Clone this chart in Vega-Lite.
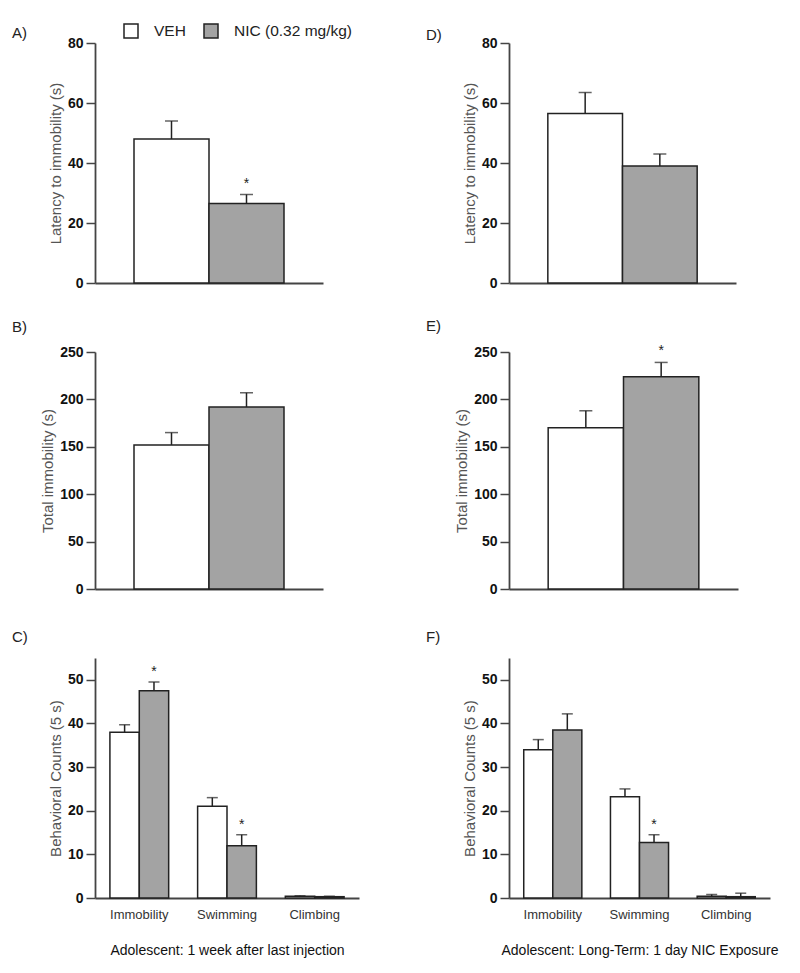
{
  "$schema": "https://vega.github.io/schema/vega-lite/v6.json",
  "background": "white",
  "padding": {"left": 12, "top": 23, "right": 5, "bottom": 5},
  "bounds": "flush",
  "columns": 2,
  "spacing": {"row": 69, "column": 150},
  "resolve": {"scale": {"fill": "independent", "x": "independent", "y": "independent", "xOffset": "independent"}, "legend": {"fill": "independent"}},
  "config": {
    "font": "Liberation Sans",
    "view": {"stroke": null},
    "axis": {"domainColor": "#444", "domainWidth": 1.8, "tickColor": "#444", "tickWidth": 1.5, "grid": false, "labelFont": "Liberation Sans", "labelFontSize": 14, "labelFontWeight": "bold", "labelColor": "#111", "titleFont": "Liberation Sans", "titleFontSize": 15, "titleFontWeight": "normal", "titleColor": "#555"},
    "axisY": {"tickSize": 9, "labelPadding": 3, "titlePadding": 4},
    "title": {"font": "Liberation Sans", "fontSize": 15, "fontWeight": "normal", "color": "#222", "anchor": "start", "frame": "group", "dx": -83, "offset": 4}
  },
  "concat": [
    {
      "width": 228, "height": 240,
      "title": {"text": "A)", "dy": 22},
      "data": {"values": [
        {"group": "VEH", "mean": 48, "err": 54, "sig": ""},
        {"group": "NIC (0.32 mg/kg)", "mean": 26.5, "err": 29.5, "sig": "*"}
      ]},
      "encoding": {
        "x": {"field": "group", "type": "nominal", "scale": {"domain": ["VEH", "NIC (0.32 mg/kg)"], "paddingInner": 0, "paddingOuter": 0.52}, "axis": {"labels": false, "ticks": false, "title": null}}
      },
      "layer": [
        {"mark": {"type": "bar", "stroke": "#222", "strokeWidth": 1.5},
         "encoding": {
           "y": {"field": "mean", "type": "quantitative", "title": "Latency to immobility (s)", "scale": {"domain": [0, 80], "nice": false}, "axis": {"values": [0, 20, 40, 60, 80]}},
           "fill": {"field": "group", "type": "nominal", "scale": {"domain": ["VEH", "NIC (0.32 mg/kg)"], "range": ["#ffffff", "#a3a3a3"]},
                    "legend": {"orient": "none", "legendX": 28, "legendY": -20, "direction": "horizontal", "title": null, "padding": 0, "symbolType": "square", "symbolSize": 196, "symbolStrokeColor": "#222", "symbolStrokeWidth": 1.5, "labelFont": "Liberation Sans", "labelFontSize": 15.5, "labelColor": "#222", "labelOffset": 15, "columnPadding": 15}}
         }},
        {"mark": {"type": "rule", "color": "#222", "strokeWidth": 1.5},
         "encoding": {"y": {"field": "mean", "type": "quantitative", "title": "Latency to immobility (s)"}, "y2": {"field": "err"}}},
        {"mark": {"type": "tick", "color": "#222", "thickness": 1.5, "size": 13},
         "encoding": {"y": {"field": "err", "type": "quantitative", "title": "Latency to immobility (s)"}}},
        {"mark": {"type": "text", "baseline": "bottom", "dy": -4, "fontSize": 14, "color": "#222"},
         "encoding": {"y": {"field": "err", "type": "quantitative", "title": "Latency to immobility (s)"}, "text": {"field": "sig"}}}
      ]
    },
    {
      "width": 227, "height": 240,
      "title": {"text": "D)", "dy": 11},
      "data": {"values": [
        {"group": "VEH", "mean": 56.5, "err": 63.5, "sig": ""},
        {"group": "NIC (0.32 mg/kg)", "mean": 39, "err": 43, "sig": ""}
      ]},
      "encoding": {
        "x": {"field": "group", "type": "nominal", "scale": {"domain": ["VEH", "NIC (0.32 mg/kg)"], "paddingInner": 0, "paddingOuter": 0.52}, "axis": {"labels": false, "ticks": false, "title": null}}
      },
      "layer": [
        {"mark": {"type": "bar", "stroke": "#222", "strokeWidth": 1.5},
         "encoding": {
           "y": {"field": "mean", "type": "quantitative", "title": "Latency to immobility (s)", "scale": {"domain": [0, 80], "nice": false}, "axis": {"values": [0, 20, 40, 60, 80]}},
           "fill": {"field": "group", "type": "nominal", "scale": {"domain": ["VEH", "NIC (0.32 mg/kg)"], "range": ["#ffffff", "#a3a3a3"]}, "legend": null}
         }},
        {"mark": {"type": "rule", "color": "#222", "strokeWidth": 1.5},
         "encoding": {"y": {"field": "mean", "type": "quantitative", "title": "Latency to immobility (s)"}, "y2": {"field": "err"}}},
        {"mark": {"type": "tick", "color": "#222", "thickness": 1.5, "size": 13},
         "encoding": {"y": {"field": "err", "type": "quantitative", "title": "Latency to immobility (s)"}}},
        {"mark": {"type": "text", "baseline": "bottom", "dy": -4, "fontSize": 14, "color": "#222"},
         "encoding": {"y": {"field": "err", "type": "quantitative", "title": "Latency to immobility (s)"}, "text": {"field": "sig"}}}
      ]
    },
    {
      "width": 228, "height": 237,
      "title": {"text": "B)", "dy": -6},
      "data": {"values": [
        {"group": "VEH", "mean": 152, "err": 165, "sig": ""},
        {"group": "NIC (0.32 mg/kg)", "mean": 192, "err": 207, "sig": ""}
      ]},
      "encoding": {
        "x": {"field": "group", "type": "nominal", "scale": {"domain": ["VEH", "NIC (0.32 mg/kg)"], "paddingInner": 0, "paddingOuter": 0.52}, "axis": {"labels": false, "ticks": false, "title": null}}
      },
      "layer": [
        {"mark": {"type": "bar", "stroke": "#222", "strokeWidth": 1.5},
         "encoding": {
           "y": {"field": "mean", "type": "quantitative", "title": "Total immobility (s)", "scale": {"domain": [0, 250], "nice": false}, "axis": {"values": [0, 50, 100, 150, 200, 250]}},
           "fill": {"field": "group", "type": "nominal", "scale": {"domain": ["VEH", "NIC (0.32 mg/kg)"], "range": ["#ffffff", "#a3a3a3"]}, "legend": null}
         }},
        {"mark": {"type": "rule", "color": "#222", "strokeWidth": 1.5},
         "encoding": {"y": {"field": "mean", "type": "quantitative", "title": "Total immobility (s)"}, "y2": {"field": "err"}}},
        {"mark": {"type": "tick", "color": "#222", "thickness": 1.5, "size": 13},
         "encoding": {"y": {"field": "err", "type": "quantitative", "title": "Total immobility (s)"}}},
        {"mark": {"type": "text", "baseline": "bottom", "dy": -4, "fontSize": 14, "color": "#222"},
         "encoding": {"y": {"field": "err", "type": "quantitative", "title": "Total immobility (s)"}, "text": {"field": "sig"}}}
      ]
    },
    {
      "width": 229, "height": 237,
      "title": {"text": "E)", "dy": -6},
      "data": {"values": [
        {"group": "VEH", "mean": 170, "err": 188, "sig": ""},
        {"group": "NIC (0.32 mg/kg)", "mean": 224, "err": 239, "sig": "*"}
      ]},
      "encoding": {
        "x": {"field": "group", "type": "nominal", "scale": {"domain": ["VEH", "NIC (0.32 mg/kg)"], "paddingInner": 0, "paddingOuter": 0.52}, "axis": {"labels": false, "ticks": false, "title": null}}
      },
      "layer": [
        {"mark": {"type": "bar", "stroke": "#222", "strokeWidth": 1.5},
         "encoding": {
           "y": {"field": "mean", "type": "quantitative", "title": "Total immobility (s)", "scale": {"domain": [0, 250], "nice": false}, "axis": {"values": [0, 50, 100, 150, 200, 250]}},
           "fill": {"field": "group", "type": "nominal", "scale": {"domain": ["VEH", "NIC (0.32 mg/kg)"], "range": ["#ffffff", "#a3a3a3"]}, "legend": null}
         }},
        {"mark": {"type": "rule", "color": "#222", "strokeWidth": 1.5},
         "encoding": {"y": {"field": "mean", "type": "quantitative", "title": "Total immobility (s)"}, "y2": {"field": "err"}}},
        {"mark": {"type": "tick", "color": "#222", "thickness": 1.5, "size": 13},
         "encoding": {"y": {"field": "err", "type": "quantitative", "title": "Total immobility (s)"}}},
        {"mark": {"type": "text", "baseline": "bottom", "dy": -4, "fontSize": 14, "color": "#222"},
         "encoding": {"y": {"field": "err", "type": "quantitative", "title": "Total immobility (s)"}, "text": {"field": "sig"}}}
      ]
    },
    {
      "width": 264, "height": 240,
      "title": {"text": "C)", "dy": -9},
      "data": {"values": [
        {"behavior": "Immobility", "group": "VEH", "mean": 38, "err": 39.7, "sig": ""},
        {"behavior": "Immobility", "group": "NIC (0.32 mg/kg)", "mean": 47.5, "err": 49.5, "sig": "*"},
        {"behavior": "Swimming", "group": "VEH", "mean": 21, "err": 23, "sig": ""},
        {"behavior": "Swimming", "group": "NIC (0.32 mg/kg)", "mean": 12, "err": 14.5, "sig": "*"},
        {"behavior": "Climbing", "group": "VEH", "mean": 0.4, "err": 0.5, "sig": ""},
        {"behavior": "Climbing", "group": "NIC (0.32 mg/kg)", "mean": 0.3, "err": 0.4, "sig": ""}
      ]},
      "encoding": {
        "x": {"field": "behavior", "type": "nominal", "title": "Adolescent: 1 week after last injection", "scale": {"domain": ["Immobility", "Swimming", "Climbing"], "paddingInner": 0.33, "paddingOuter": 0.17},
              "axis": {"ticks": false, "tickSize": 0, "labelAngle": 0, "labelFontSize": 13, "labelFontWeight": "normal", "labelColor": "#333", "labelPadding": 10, "titleFontSize": 14, "titleColor": "#111", "titlePadding": 22}},
        "xOffset": {"field": "group", "type": "nominal", "scale": {"domain": ["VEH", "NIC (0.32 mg/kg)"], "paddingInner": 0, "paddingOuter": 0}}
      },
      "layer": [
        {"mark": {"type": "bar", "stroke": "#222", "strokeWidth": 1.5},
         "encoding": {
           "y": {"field": "mean", "type": "quantitative", "title": "Behavioral Counts (5 s)", "scale": {"domain": [0, 55], "nice": false}, "axis": {"values": [0, 10, 20, 30, 40, 50]}},
           "fill": {"field": "group", "type": "nominal", "scale": {"domain": ["VEH", "NIC (0.32 mg/kg)"], "range": ["#ffffff", "#a3a3a3"]}, "legend": null}
         }},
        {"mark": {"type": "rule", "color": "#222", "strokeWidth": 1.5},
         "encoding": {"y": {"field": "mean", "type": "quantitative", "title": "Behavioral Counts (5 s)"}, "y2": {"field": "err"}}},
        {"mark": {"type": "tick", "color": "#222", "thickness": 1.5, "size": 11},
         "encoding": {"y": {"field": "err", "type": "quantitative", "title": "Behavioral Counts (5 s)"}}},
        {"mark": {"type": "text", "baseline": "bottom", "dy": -3, "fontSize": 14, "color": "#222"},
         "encoding": {"y": {"field": "err", "type": "quantitative", "title": "Behavioral Counts (5 s)"}, "text": {"field": "sig"}}}
      ]
    },
    {
      "width": 261, "height": 240,
      "title": {"text": "F)", "dy": -9},
      "data": {"values": [
        {"behavior": "Immobility", "group": "VEH", "mean": 34, "err": 36.3, "sig": ""},
        {"behavior": "Immobility", "group": "NIC (0.32 mg/kg)", "mean": 38.5, "err": 42.2, "sig": ""},
        {"behavior": "Swimming", "group": "VEH", "mean": 23.2, "err": 25, "sig": ""},
        {"behavior": "Swimming", "group": "NIC (0.32 mg/kg)", "mean": 12.7, "err": 14.5, "sig": "*"},
        {"behavior": "Climbing", "group": "VEH", "mean": 0.4, "err": 0.8, "sig": ""},
        {"behavior": "Climbing", "group": "NIC (0.32 mg/kg)", "mean": 0.3, "err": 1.1, "sig": ""}
      ]},
      "encoding": {
        "x": {"field": "behavior", "type": "nominal", "title": "Adolescent: Long-Term: 1 day NIC Exposure", "scale": {"domain": ["Immobility", "Swimming", "Climbing"], "paddingInner": 0.33, "paddingOuter": 0.17},
              "axis": {"ticks": false, "tickSize": 0, "labelAngle": 0, "labelFontSize": 13, "labelFontWeight": "normal", "labelColor": "#333", "labelPadding": 10, "titleFontSize": 14, "titleColor": "#111", "titlePadding": 22}},
        "xOffset": {"field": "group", "type": "nominal", "scale": {"domain": ["VEH", "NIC (0.32 mg/kg)"], "paddingInner": 0, "paddingOuter": 0}}
      },
      "layer": [
        {"mark": {"type": "bar", "stroke": "#222", "strokeWidth": 1.5},
         "encoding": {
           "y": {"field": "mean", "type": "quantitative", "title": "Behavioral Counts (5 s)", "scale": {"domain": [0, 55], "nice": false}, "axis": {"values": [0, 10, 20, 30, 40, 50]}},
           "fill": {"field": "group", "type": "nominal", "scale": {"domain": ["VEH", "NIC (0.32 mg/kg)"], "range": ["#ffffff", "#a3a3a3"]}, "legend": null}
         }},
        {"mark": {"type": "rule", "color": "#222", "strokeWidth": 1.5},
         "encoding": {"y": {"field": "mean", "type": "quantitative", "title": "Behavioral Counts (5 s)"}, "y2": {"field": "err"}}},
        {"mark": {"type": "tick", "color": "#222", "thickness": 1.5, "size": 11},
         "encoding": {"y": {"field": "err", "type": "quantitative", "title": "Behavioral Counts (5 s)"}}},
        {"mark": {"type": "text", "baseline": "bottom", "dy": -3, "fontSize": 14, "color": "#222"},
         "encoding": {"y": {"field": "err", "type": "quantitative", "title": "Behavioral Counts (5 s)"}, "text": {"field": "sig"}}}
      ]
    }
  ]
}
